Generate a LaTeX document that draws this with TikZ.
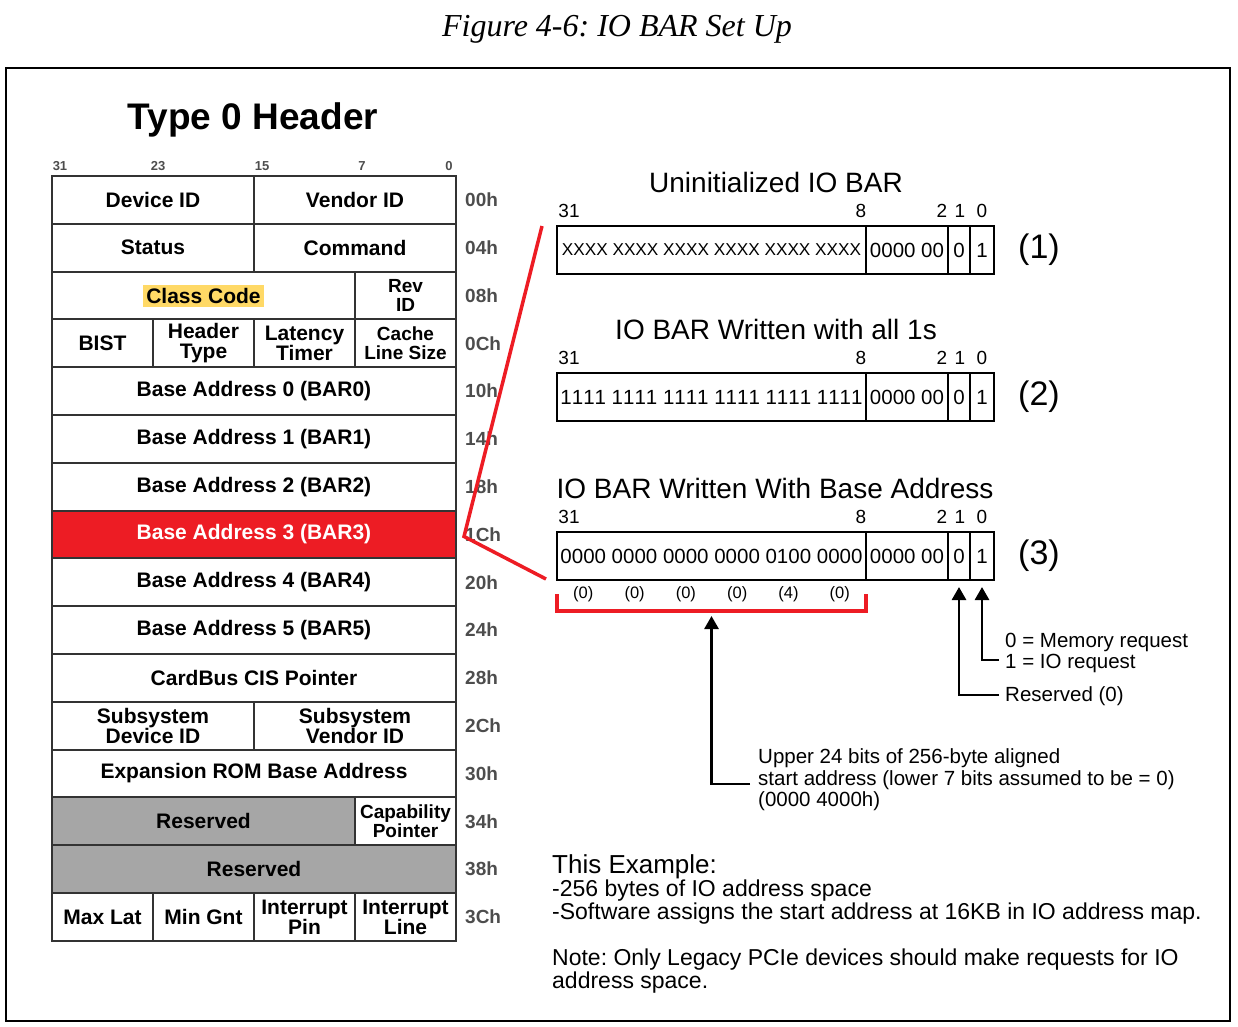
\documentclass[tikz,border=0pt]{standalone}
\usepackage{fontspec}
\setmainfont{Liberation Sans}
\newfontfamily\capfont{Liberation Serif}
\usepackage{tikz}
\usetikzlibrary{
	arrows.meta,
	positioning
}
\definecolor{BarRed}{RGB}{237,28,36}
\definecolor{ResGray}{RGB}{166,166,166}
\definecolor{CodeYellow}{RGB}{255,217,102}
\definecolor{OffGray}{RGB}{77,77,77}
\frenchspacing

\begin{document}
\begin{tikzpicture}[x=1pt, y=-1pt,
		cell/.style={draw=black!80, line width=2pt, minimum height=47.8pt, inner sep=0pt, align=center, font=\fontsize{21}{20}\selectfont\bfseries},
		small/.style={font=\fontsize{19}{19}\selectfont\bfseries},
		offs/.style={anchor=west, inner sep=0pt, text=OffGray, font=\fontsize{19}{19}\selectfont\bfseries},
		colno/.style={anchor=base, inner sep=0pt, text=OffGray, font=\fontsize{13}{13}\selectfont\bfseries},
		barcell/.style={draw, line width=2.2pt, minimum height=48pt, inner sep=0pt, outer sep=0pt, font=\fontsize{20.5}{20.5}\selectfont\addfontfeature{Kerning=Off}},
		bartitle/.style={anchor=base, inner sep=0pt, font=\fontsize{28}{28}\selectfont},
		bitno/.style={anchor=base, inner sep=0pt, font=\fontsize{19}{19}\selectfont},
		tag/.style={inner sep=0pt, font=\fontsize{34}{34}\selectfont},
		note/.style={anchor=base west, inner sep=0pt, font=\fontsize{20.5}{20.5}\selectfont},
		arr/.style={-{Triangle[length=13pt,width=14pt]}, line width=2.8pt},
		callout/.style={BarRed, line width=3.5pt},
	]
		\useasboundingbox (0,0) rectangle (1238,1026);
		\def\ty{176}
		\def\rh{47.8}
		% caption and frame
		\node[anchor=base, inner sep=0pt, font=\capfont\itshape\fontsize{32}{32}\selectfont] (cap) at (617,36) {Figure 4-6: IO BAR Set Up};
		\draw[line width=2.5pt] (6,68) rectangle (1230,1021);
		% Type 0 header
		\node[anchor=base, inner sep=0pt, font=\fontsize{37}{37}\selectfont\bfseries] (hdr) at (253,129) {Type 0 Header};
		\foreach \c/\cx in {31/60,23/158,15/262,7/362,0/449}
			\node[colno] (col\c) at (\cx,170) {\c};
		\node[cell, minimum width=202pt] (devid) at (153,\ty+\rh*0.5) {Device ID};
		\node[cell, minimum width=202pt] (venid) at (355,\ty+\rh*0.5) {Vendor ID};
		\node[cell, minimum width=202pt] (stat) at (153,\ty+\rh*1.5) {Status};
		\node[cell, minimum width=202pt] (cmd) at (355,\ty+\rh*1.5) {Command};
		\node[cell, minimum width=303pt] (class) at (203.5,\ty+\rh*2.5) {{\setlength\fboxsep{0pt}\colorbox{CodeYellow}{\rule[-3pt]{0pt}{22pt}\,Class Code\,}}};
		\node[cell, small, minimum width=101pt] (rev) at (405.5,\ty+\rh*2.5) {Rev\\ID};
		\node[cell, minimum width=101pt] (bist) at (102.5,\ty+\rh*3.5) {BIST};
		\node[cell, minimum width=101pt] (htype) at (203.5,\ty+\rh*3.5) {Header\\Type};
		\node[cell, minimum width=101pt] (lat) at (304.5,\ty+\rh*3.5) {Latency\\Timer};
		\node[cell, small, minimum width=101pt] (cls) at (405.5,\ty+\rh*3.5) {Cache\\Line Size};
		\foreach \n in {0,1,2,4,5}
			\node[cell, minimum width=404pt] (bar\n) at (254,\ty+\rh*4.5+\rh*\n) {Base Address \n{} (BAR\n)};
		\node[cell, minimum width=404pt, fill=BarRed, text=white] (bar3) at (254,\ty+\rh*7.5) {Base Address 3 (BAR3)};
		\node[cell, minimum width=404pt] (cis) at (254,\ty+\rh*10.5) {CardBus CIS Pointer};
		\node[cell, minimum width=202pt] (ssdev) at (153,\ty+\rh*11.5) {Subsystem\\Device ID};
		\node[cell, minimum width=202pt] (ssven) at (355,\ty+\rh*11.5) {Subsystem\\Vendor ID};
		\node[cell, minimum width=404pt] (rom) at (254,\ty+\rh*12.5) {Expansion ROM Base Address};
		\node[cell, minimum width=303pt, fill=ResGray] (res1) at (203.5,\ty+\rh*13.5) {Reserved};
		\node[cell, small, minimum width=101pt] (cap) at (405.5,\ty+\rh*13.5) {Capability\\Pointer};
		\node[cell, minimum width=404pt, fill=ResGray] (res2) at (254,\ty+\rh*14.5) {Reserved};
		\node[cell, minimum width=101pt] (maxlat) at (102.5,\ty+\rh*15.5) {Max Lat};
		\node[cell, minimum width=101pt] (mingnt) at (203.5,\ty+\rh*15.5) {Min Gnt};
		\node[cell, minimum width=101pt] (ipin) at (304.5,\ty+\rh*15.5) {Interrupt\\Pin};
		\node[cell, minimum width=101pt] (iline) at (405.5,\ty+\rh*15.5) {Interrupt\\Line};
		\foreach \o [count=\i from 0] in {00h,04h,08h,0Ch,10h,14h,18h,1Ch,20h,24h,28h,2Ch,30h,34h,38h,3Ch}
			\node[offs] (off\i) at (465,\ty+\rh*\i+\rh/2) {\o};
		% (1) uninitialized
		\begin{scope}[shift={(0,226)}]
			\node[bartitle] (utitle) at (776,-34) {Uninitialized IO BAR};
			\foreach \b/\bx in {31/569,8/861,2/942,1/960,0/982}
				\node[bitno] (ubit\b) at (\bx,-9) {\b};
			\node[barcell, anchor=north west, minimum width=309pt] (ua) at (557,0) {\fontsize{17.2}{17.2}\selectfont XXXX XXXX XXXX XXXX XXXX XXXX};
			\node[barcell, minimum width=82pt, right=0pt of ua] (ub) {0000 00};
			\node[barcell, minimum width=22pt, right=0pt of ub] (uc) {0};
			\node[barcell, minimum width=24pt, right=0pt of uc] (ud) {1};
			\node[tag, right=24pt of ud] (utag) {(1)};
		\end{scope}
		% (2) all ones
		\begin{scope}[shift={(0,373)}]
			\node[bartitle] (ftitle) at (776,-34) {IO BAR Written with all 1s};
			\foreach \b/\bx in {31/569,8/861,2/942,1/960,0/982}
				\node[bitno] (fbit\b) at (\bx,-9) {\b};
			\node[barcell, anchor=north west, minimum width=309pt] (fa) at (557,0) {1111 1111 1111 1111 1111 1111};
			\node[barcell, minimum width=82pt, right=0pt of fa] (fb) {0000 00};
			\node[barcell, minimum width=22pt, right=0pt of fb] (fc) {0};
			\node[barcell, minimum width=24pt, right=0pt of fc] (fd) {1};
			\node[tag, right=24pt of fd] (ftag) {(2)};
		\end{scope}
		% (3) base address
		\begin{scope}[shift={(0,532)}]
			\node[bartitle] (stitle) at (775,-34) {IO BAR Written With Base Address};
			\foreach \b/\bx in {31/569,8/861,2/942,1/960,0/982}
				\node[bitno] (sbit\b) at (\bx,-9) {\b};
			\node[barcell, anchor=north west, minimum width=309pt] (sa) at (557,0) {0000 0000 0000 0000 0100 0000};
			\node[barcell, minimum width=82pt, right=0pt of sa] (sb) {0000 00};
			\node[barcell, minimum width=22pt, right=0pt of sb] (sc) {0};
			\node[barcell, minimum width=24pt, right=0pt of sc] (sd) {1};
			\node[tag, right=24pt of sd] (stag) {(3)};
			\foreach \h [count=\i from 0] in {0,0,0,0,4,0}
				\node[inner sep=0pt, font=\fontsize{16.5}{16.5}\selectfont] (hex\i) at (583.3+51.3*\i,62) {(\h)};
		\end{scope}
		% callout from BAR3
		\draw[callout] ([xshift=-15pt]ua.north west) -- ([xshift=7pt,yshift=-2pt]bar3.east) -- ([xshift=-11pt,yshift=1pt]sa.south west);
		\draw[BarRed, line width=3.5pt] ([yshift=-14pt]sa.south west) -- ++(0,17) -| ([yshift=-14pt]sa.south east);
		% notes
		\coordinate (brk) at ([yshift=-36pt]sa.south);
		\node[note] (up1) at (758,763) {Upper 24 bits of 256-byte aligned};
		\node[note] (up2) at (758,785) {start address (lower 7 bits assumed to be = 0)};
		\node[note] (up3) at (758,806) {(0000 4000h)};
		\draw[arr] ([xshift=-8pt,yshift=1pt]up2.base west) -| (brk);
		\node[note] (memreq) at (1005,647) {0 = Memory request};
		\node[note] (ioreq) at (1005,668) {1 = IO request};
		\node[note] (resv) at (1005,701) {Reserved (0)};
		\draw[arr] ([xshift=-6pt,yshift=8pt]ioreq.base west) -| ([yshift=-7pt]sd.south);
		\draw[arr] ([xshift=-6pt,yshift=6pt]resv.base west) -| ([yshift=-7pt]sc.south);
		% example text
		\node[note, font=\fontsize{26}{26}\selectfont] (exhead) at (552,873) {This Example:};
		\node[note, font=\fontsize{23}{23}\selectfont] (ex1) at (552,896) {-256 bytes of IO address space};
		\node[note, font=\fontsize{23}{23}\selectfont] (ex2) at (552,919) {-Software assigns the start address at 16KB in IO address map.};
		\node[note, font=\fontsize{23}{23}\selectfont] (nt1) at (552,965) {Note: Only Legacy PCIe devices should make requests for IO};
		\node[note, font=\fontsize{23}{23}\selectfont] (nt2) at (552,988) {address space.};
	\end{tikzpicture}
\end{document}
